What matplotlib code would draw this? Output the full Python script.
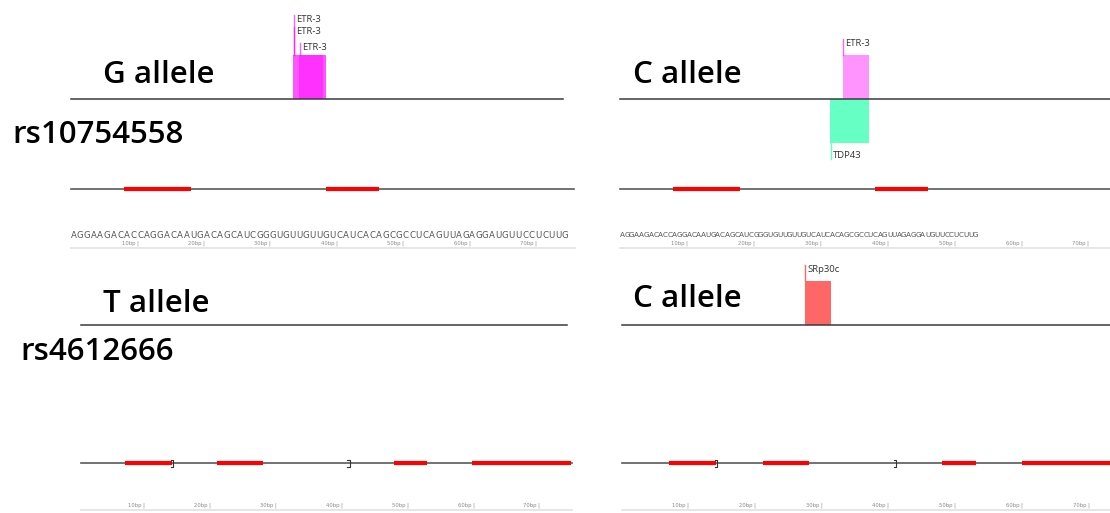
import matplotlib
matplotlib.use("Agg")
import matplotlib.pyplot as plt

W, H = 1110, 513

# ---- data -------------------------------------------------------------
sequence = "AGGAAGACACCAGGACAAUGACAGCAUCGGGUGUUGUUGUCAUCACAGCGCCUCAGUUAGAGGAUGUUCCUCUUG"
snp_ids = ["rs10754558", "rs4612666"]
tick_bp = [10, 20, 30, 40, 50, 60, 70]

# binding sites: protein, start (bp), end (bp), side (+1 above / -1 below), label tier
sites_rs107_G = [("ETR-3", 33.5, 38.4, 1, 2),
                 ("ETR-3", 33.5, 38.4, 1, 1),
                 ("ETR-3", 34.4, 37.9, 1, 0)]
sites_rs107_C = [("ETR-3", 33.3, 37.2, 1, 0),
                 ("TDP43", 31.4, 37.2, -1, 0)]
sites_rs461_T = []
sites_rs461_C = [("SRp30c", 27.5, 31.4, 1, 0)]

# paired (stem) regions of the predicted structure, bp
stems_rs107_G = [(8.0, 18.1), (38.4, 46.4)]
stems_rs107_C = [(7.9, 17.9), (38.1, 46.1)]
stems_rs461_T = [(7.1, 14.2), (21.1, 28.0), (47.9, 52.9), (59.8, 74.8)]
stems_rs461_C = [(7.2, 14.2), (21.3, 28.1), (48.1, 53.1), (60.0, 74.8)]

# bracket marks on the structure track, bp
brackets_rs461 = [14.4, 41.2]

protein_style = {
    "ETR-3": ("#ff00ff", 0.42),
    "TDP43": ("#66ffc4", 1.0),
    "SRp30c": ("#ff6666", 1.0),
}

# ---- layout -----------------------------------------------------------
panels = [
    dict(allele="G allele", x0=71, ppb=6.64, top=True, base_y=99, track_y=189,
         base_start=0.0, base_end=74.1, track_end=75.8, rule=(0.0, 75.9),
         sites=sites_rs107_G, stems=stems_rs107_G, brackets=[],
         seq_pitch=1.0, seq_offset=0.4, seq_font=6.2, label_xy=(103, 83),
         tiers=[48, 32, 20]),
    dict(allele="C allele", x0=620, ppb=6.69, top=True, base_y=99, track_y=189,
         base_start=0.0, base_end=76, track_end=76, rule=(0.0, 76),
         sites=sites_rs107_C, stems=stems_rs107_C, brackets=[],
         seq_pitch=0.713, seq_offset=0.5, seq_font=5.2, label_xy=(633, 83),
         tiers=[44]),
    dict(allele="T allele", x0=78, ppb=6.59, top=False, base_y=325, track_y=463,
         base_start=0.45, base_end=74.2, track_end=75.0, rule=(0.45, 75.0),
         sites=sites_rs461_T, stems=stems_rs461_T, brackets=brackets_rs461,
         label_xy=(103, 312), tiers=[270]),
    dict(allele="C allele", x0=621, ppb=6.68, top=False, base_y=325, track_y=463,
         base_start=0.15, base_end=76, track_end=76, rule=(0.15, 76),
         sites=sites_rs461_C, stems=stems_rs461_C, brackets=brackets_rs461,
         label_xy=(633, 307), tiers=[270]),
]
snp_label_xy = [(12, 143), (20, 360)]

BIG = dict(family=["Open Sans", "DejaVu Sans"], fontsize=22.5,
           fontweight="semibold", color="black")
SMALL = dict(family=["Open Sans", "DejaVu Sans"], fontsize=6.8, color="#333333")

fig = plt.figure(figsize=(W / 100, H / 100), dpi=100)
fig.patch.set_facecolor("white")

# text layer in pixel units
lay = fig.add_axes([0, 0, 1, 1])
lay.set_xlim(0, W)
lay.set_ylim(H, 0)
lay.axis("off")

for name, (x, y) in zip(snp_ids, snp_label_xy):
    lay.text(x, y, name, ha="left", va="baseline", **BIG)

BAR_H = 44

for p in panels:
    ax = fig.add_axes([0, 0, 1, 1])
    ax.patch.set_alpha(0)
    ax.set_xlim(-p["x0"] / p["ppb"], (W - p["x0"]) / p["ppb"])
    ax.set_ylim(H, 0)
    ax.axis("off")

    lx, ly = p["label_xy"]
    lay.text(lx, ly, p["allele"], ha="left", va="baseline", **BIG)

    by = p["base_y"]

    # binding sites
    for prot, s, e, side, tier in p["sites"]:
        col, a = protein_style[prot]
        ax.bar(s, -side * BAR_H, width=e - s, bottom=by, align="edge",
               color=col, alpha=a, linewidth=0, zorder=2)
        if side > 0:
            ty = p["tiers"][tier]
            ax.plot([s + 0.08, s + 0.08], [ty - 5, by - BAR_H], color=col,
                    alpha=min(1, a + 0.2), lw=1.0, zorder=2)
        else:
            ty = by + BAR_H + 12
            ax.plot([s + 0.08, s + 0.08], [by + BAR_H, ty + 4], color=col,
                    lw=1.0, zorder=2)
        ax.text(s + 0.35, ty, prot, ha="left", va="center", **SMALL)

    # baseline
    ax.plot([p["base_start"], p["base_end"]], [by, by], color="#3a3a3a",
            lw=1.1, zorder=3)

    # structure track
    ty = p["track_y"]
    ax.plot([p["base_start"], p["track_end"]], [ty, ty], color="#5a5a5a",
            lw=1.2, zorder=3)
    for s, e in p["stems"]:
        ax.plot([s, e], [ty, ty], color="#ff0000", lw=3.0,
                solid_capstyle="butt", zorder=4)
    for b in p["brackets"]:
        ax.plot([b - 0.35, b, b, b - 0.35], [ty - 3.5, ty - 3.5, ty + 4, ty + 4],
                color="#333333", lw=0.8, zorder=5)

    # sequence + ruler
    if p["top"]:
        seq_y, tick_y, rule_y = 235, 243, 248
        for i, ch in enumerate(sequence):
            ax.text((i + p["seq_offset"]) * p["seq_pitch"], seq_y, ch,
                    ha="center", va="center", fontsize=p["seq_font"],
                    color="#555555", family="DejaVu Sans")
    else:
        tick_y, rule_y = 505, 510
    for t in tick_bp:
        ax.text(t + 0.15, tick_y, f"{t}bp |", ha="right", va="center",
                fontsize=3.8, color="#8a8a8a", family="DejaVu Sans")
    r0, r1 = p["rule"]
    ax.plot([r0, r1], [rule_y, rule_y], color="#e2e2e2", lw=1.2, zorder=1)

fig.savefig("out.png", dpi=100, facecolor="white")
